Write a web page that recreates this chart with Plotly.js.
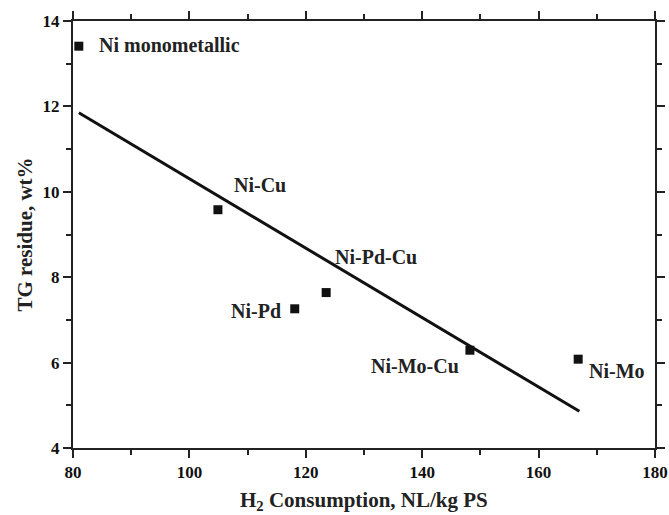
<!DOCTYPE html>
<html>
<head>
<meta charset="utf-8">
<script src="https://cdn.plot.ly/plotly-3.0.1.min.js"></script>
<style>html,body{margin:0;padding:0;background:#fff;}#chart{width:669px;height:515px;}</style>
</head>
<body>
<div id="chart"></div>
<script>
const catalysts = ["Ni monometallic", "Ni-Cu", "Ni-Pd", "Ni-Pd-Cu", "Ni-Mo-Cu", "Ni-Mo"];
const h2Consumption = [81.0, 104.9, 118.1, 123.5, 148.2, 166.8];
const tgResidue = [13.41, 9.58, 7.26, 7.64, 6.29, 6.08];
const fitX = [81.0, 167.0];
const fitY = [11.85, 4.86];
const labelX = [84.1, 107.4, 116.0, 124.6, 146.6, 168.3];
const labelY = [13.43, 10.15, 7.22, 8.47, 5.93, 5.8];
const labelAnchor = ["left", "left", "right", "left", "right", "left"];
const xTickVals = [80, 100, 120, 140, 160, 180];
const xTickText = ["80", "100", "120", "140", "160", "180"];
const yTickVals = [4, 6, 8, 10, 12, 14];
const yTickText = ["4", "6", "8", "10", "12", "14"];
const xTitle = "H<sub>2</sub> Consumption, NL/kg PS";
const yTitle = "TG residue, wt%";

const fam = "Liberation Serif, Times New Roman, serif";
const ink = "#222";
const bold = s => "<b>" + s + "</b>";

const traces = [
  {x: fitX, y: fitY, mode: "lines", line: {color: "#111", width: 3}, hoverinfo: "skip"},
  {x: h2Consumption, y: tgResidue, mode: "markers", text: catalysts,
   marker: {symbol: "square", size: 9, color: "#111"}}
];

const annotations = catalysts.map((c, i) => ({
  x: labelX[i], y: labelY[i], xref: "x", yref: "y", text: bold(c),
  showarrow: false, xanchor: labelAnchor[i], yanchor: "middle",
  font: {family: fam, size: 20, color: ink}
}));
annotations.push({
  x: 0.5, y: 0, xref: "paper", yref: "paper", xanchor: "center", yanchor: "top",
  yshift: -38, showarrow: false, text: bold(xTitle),
  font: {family: fam, size: 21, color: ink}
});

const axisCommon = {
  showline: true, linewidth: 2, linecolor: ink, mirror: "ticks",
  ticks: "outside", ticklen: 8, tickwidth: 2, tickcolor: ink,
  showgrid: false, zeroline: false,
  tickfont: {family: fam, size: 17, color: "#111", weight: "bold"}
};

const layout = {
  width: 669, height: 515,
  margin: {l: 73, r: 14, t: 21, b: 67},
  paper_bgcolor: "#fff", plot_bgcolor: "#fff",
  showlegend: false,
  xaxis: Object.assign({}, axisCommon, {
    range: [80, 180], tickmode: "array", tickvals: xTickVals, ticktext: xTickText.map(bold),
    minor: {dtick: 10, tick0: 80, ticks: "outside", ticklen: 5, tickwidth: 2, tickcolor: ink}
  }),
  yaxis: Object.assign({}, axisCommon, {
    range: [4, 14], tickmode: "array", tickvals: yTickVals, ticktext: yTickText.map(bold),
    minor: {dtick: 1, tick0: 4, ticks: "outside", ticklen: 5, tickwidth: 2, tickcolor: ink},
    title: {text: bold(yTitle), standoff: 4,
            font: {family: fam, size: 21, color: ink}}
  }),
  annotations: annotations
};

Plotly.newPlot("chart", traces, layout, {staticPlot: true});
</script>
</body>
</html>
